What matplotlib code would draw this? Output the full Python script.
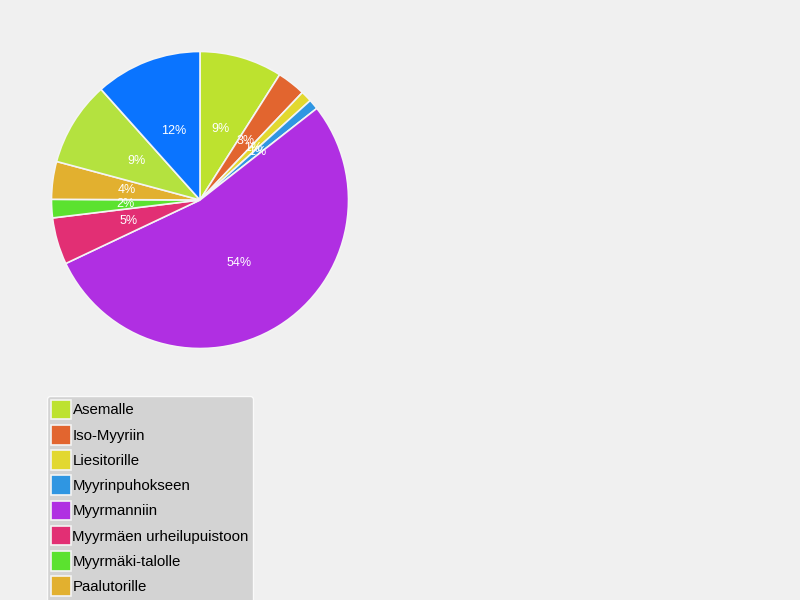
import matplotlib
matplotlib.use('Agg')
import matplotlib.pyplot as plt

plt.rcParams['font.family'] = ['Liberation Sans', 'DejaVu Sans']

labels = ['Asemalle', 'Iso-Myyriin', 'Liesitorille', 'Myyrinpuhokseen', 'Myyrmanniin',
          'Myyrmäen urheilupuistoon', 'Myyrmäki-talolle', 'Paalutorille',
          'Raappavuorelle', 'Vantaanjoelle']
values = [9.0, 3.1, 1.2, 1.1, 53.5, 5.1, 2.0, 4.1, 9.2, 11.6]
colors = ['#bde22f', '#e2652f', '#e2d82f', '#2f96e2', '#b02fe2',
          '#e22f74', '#5be22f', '#e2b02f', '#b4e23f', '#0a74ff']

fig = plt.figure(figsize=(8, 6), dpi=100)
fig.patch.set_facecolor('#f0f0f0')

# pie centred at (200, 200) px, radius 150 px
ax = fig.add_axes([50 / 800, 250 / 600, 300 / 800, 300 / 600])
wedges, texts, autotexts = ax.pie(
    values, colors=colors, startangle=90, counterclock=False, radius=1,
    autopct=lambda p: '%d%%' % round(p), pctdistance=0.5,
    wedgeprops=dict(edgecolor='#f4f4f4', linewidth=1.2),
    textprops=dict(color='white', fontsize=9))
ax.set_xlim(-1.01, 1.01)
ax.set_ylim(-1.01, 1.01)
ax.set_aspect('equal')
ax.axis('off')

leg = fig.legend(wedges, labels, loc='upper left',
                 bbox_to_anchor=(47 / 800, 1 - 396 / 600),
                 fontsize=10.8, handlelength=1.33, handleheight=1.64,
                 handletextpad=0.12, labelspacing=0.37, borderpad=0.25,
                 borderaxespad=0, fancybox=True, framealpha=1)
leg.get_frame().set_facecolor('#d3d3d3')
leg.get_frame().set_edgecolor('#fafafa')

fig.savefig('out.png', dpi=100, facecolor=fig.get_facecolor())
